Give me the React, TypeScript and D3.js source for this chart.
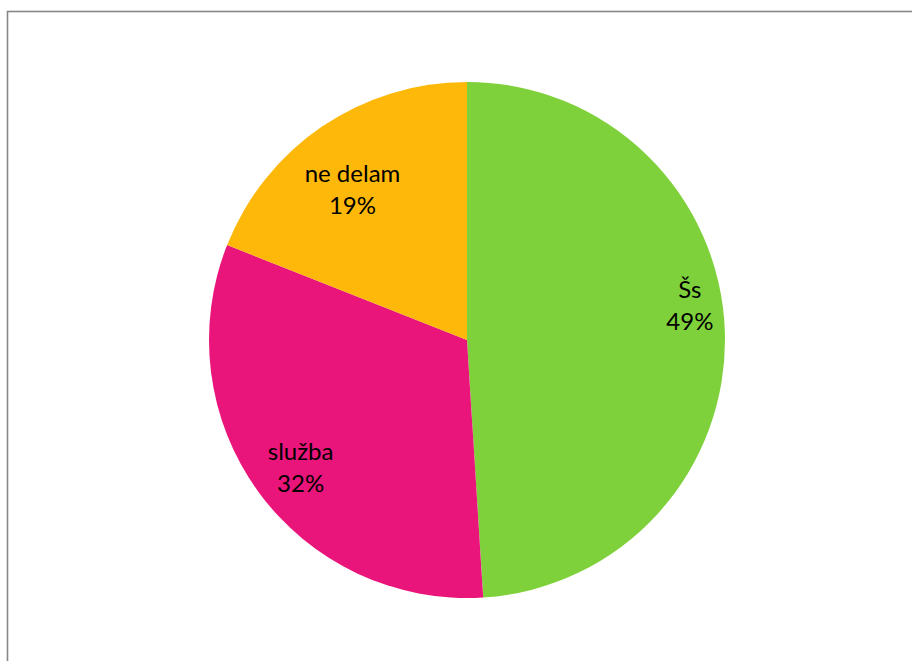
import React from "react";
import * as d3 from "d3";

const categories = ["Šs", "služba", "ne delam"];
const values = [49, 32, 19];
const colors = ["#7FD13B", "#EA157A", "#FEB80A"];

// label placement (fraction of radius, angular nudge in degrees)
const labelRadiusFactor = [0.87, 0.83, 0.71];
const labelAngleNudge = [-5, -3, -4.5];

export default function App() {
  const W = 912, H = 661;
  const cx = 467, cy = 340, R = 258;
  const data = categories.map((c, i) => ({ c, v: values[i], i }));
  const total = d3.sum(values);
  const pie = d3.pie<any>().value((d) => d.v).sort(null);
  const arcs = pie(data);
  const arc = d3.arc<any>().innerRadius(0).outerRadius(R);
  const fmt = (v: number) => `${Math.round((v / total) * 100)}%`;

  return (
    <svg width={W} height={H} style={{ position: "absolute", left: 0, top: 0 }}>
      <rect x={0} y={0} width={W} height={H} fill="#fff" />
      <rect x={7.5} y={11.5} width={1200} height={1200} fill="#fff" stroke="#878787" strokeWidth={1.6} />
      <g transform={`translate(${cx},${cy})`}>
        {arcs.map((a, i) => (
          <path key={i} d={arc(a) || ""} fill={colors[i]} />
        ))}
        {arcs.map((a, i) => {
          const mid = (a.startAngle + a.endAngle) / 2 + (labelAngleNudge[i] * Math.PI) / 180;
          const r = R * labelRadiusFactor[i];
          const x = r * Math.sin(mid);
          const y = -r * Math.cos(mid);
          return (
            <text
              key={i}
              x={x}
              y={y}
              textAnchor="middle"
              fontFamily="Lato, 'Noto Sans', sans-serif"
              fontSize={24}
              fill="#000"
            >
              <tspan x={x} dy={-15}>{a.data.c}</tspan>
              <tspan x={x} dy={32}>{fmt(a.data.v)}</tspan>
            </text>
          );
        })}
      </g>
    </svg>
  );
}
